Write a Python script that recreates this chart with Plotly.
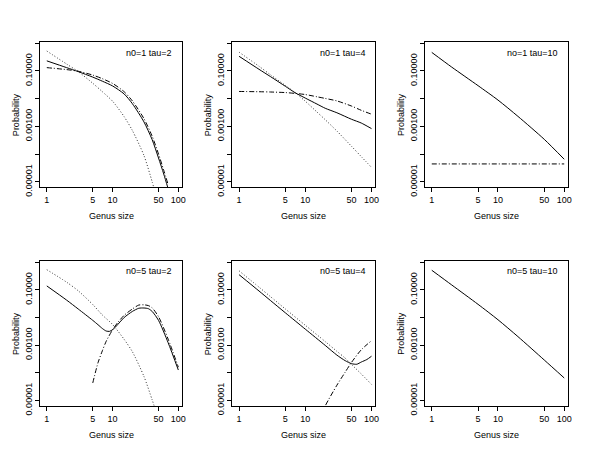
import plotly.graph_objects as go
from plotly.subplots import make_subplots

# ---------------- data ----------------
# Panel 1: n0=1 tau=2
p1_solid_x = [1, 2, 3, 5, 7, 10, 15, 20, 30, 40, 50, 60, 70]
p1_solid_y = [0.232, 0.132, 0.095, 0.060, 0.0427, 0.0288, 0.0148, 0.0066, 0.00145, 3.3e-4, 7.2e-5, 1.9e-5, 5.6e-6]
p1_dot_x = [1, 2, 3, 5, 7, 10, 15, 20, 30, 40, 45]
p1_dot_y = [0.525, 0.178, 0.095, 0.036, 0.0178, 0.0081, 0.00224, 7.1e-4, 8.9e-5, 1.0e-5, 3.8e-6]
p1_dd_x = [1, 2, 3, 5, 7, 10, 15, 20, 30, 40, 50, 60, 70]
p1_dd_y = [0.132, 0.112, 0.098, 0.071, 0.0525, 0.0355, 0.0178, 0.0083, 0.0019, 4.4e-4, 1.0e-4, 2.6e-5, 7.9e-6]

# Panel 2: n0=1 tau=4
p2_x = [1, 2, 3, 5, 7, 10, 15, 20, 30, 50, 70, 100]
p2_solid_y = [0.339, 0.115, 0.062, 0.028, 0.0165, 0.0105, 0.0064, 0.0045, 0.0031, 0.0018, 0.00132, 8.3e-4]
p2_dot_y = [0.479, 0.148, 0.072, 0.030, 0.0166, 0.0081, 0.0033, 0.00174, 6.8e-4, 1.9e-4, 8.1e-5, 3.3e-5]
p2_dd_y = [0.0182, 0.0178, 0.0174, 0.0166, 0.0155, 0.0141, 0.0117, 0.0102, 0.0083, 0.0054, 0.0038, 0.00275]

# Panel 3: no=1 tau=10
p3_solid_x = [1, 2, 5, 10, 20, 50, 100]
p3_solid_y = [0.468, 0.138, 0.0295, 0.0089, 0.0023, 3.4e-4, 6.5e-5]
p3_dd_x = [1, 10, 100]
p3_dd_y = [4.4e-5, 4.4e-5, 4.4e-5]

# Panel 4: n0=5 tau=2
p4_solid_x = [1, 2, 3, 5, 6, 7, 8, 9, 10, 11, 12, 15, 20, 25, 30, 35, 40, 50, 70, 100]
p4_solid_y = [0.139, 0.0427, 0.0204, 0.0079, 0.0055, 0.0040, 0.00324, 0.00316, 0.00363, 0.00447,
              0.0056, 0.010, 0.0166, 0.0216, 0.0221, 0.0209, 0.0166, 0.0079, 0.00123, 1.26e-4]
p4_dot_x = [1, 2, 3, 5, 7, 10, 15, 20, 30, 40, 45]
p4_dot_y = [0.537, 0.19, 0.093, 0.0295, 0.0123, 0.0056, 0.00162, 5.8e-4, 7.4e-5, 1.05e-5, 4.5e-6]
p4_dd_x = [5, 6, 7, 8, 10, 12, 15, 20, 25, 30, 35, 40, 50, 70, 100]
p4_dd_y = [4.3e-5, 2.3e-4, 6.3e-4, 0.00138, 0.0036, 0.0066, 0.012, 0.0204, 0.0282, 0.0288,
           0.0270, 0.0224, 0.0107, 0.00166, 1.6e-4]

# Panel 5: n0=5 tau=4
p5_solid_x = [1, 2, 3, 5, 10, 20, 30, 40, 50, 60, 70, 85, 100]
p5_solid_y = [0.355, 0.0912, 0.0407, 0.0148, 0.0038, 9.8e-4, 4.37e-4, 2.75e-4, 2.14e-4, 2.04e-4,
              2.45e-4, 3.02e-4, 3.98e-4]
p5_dot_x = [1, 2, 3, 5, 10, 20, 30, 40, 50, 70, 100]
p5_dot_y = [0.49, 0.126, 0.0562, 0.0204, 0.00525, 0.00135, 6.0e-4, 3.4e-4, 2.0e-4, 9.1e-5, 3.8e-5]
p5_dd_x = [18, 20, 30, 40, 50, 70, 100]
p5_dd_y = [3.2e-6, 6.3e-6, 3.55e-5, 1.05e-4, 2.4e-4, 6.8e-4, 1.45e-3]

# Panel 6: n0=5 tau=10
p6_solid_x = [1, 2, 5, 10, 20, 50, 100]
p6_solid_y = [0.513, 0.151, 0.030, 0.0083, 0.00204, 2.9e-4, 6.5e-5]

panel_titles = ["n0=1 tau=2", "n0=1 tau=4", "no=1 tau=10", "n0=5 tau=2", "n0=5 tau=4", "n0=5 tau=10"]
x_tickvals = [1, 5, 10, 50, 100]
x_ticktext = ["1", "5", "10", "50", "100"]
y_tickvals = [1, 0.1, 0.01, 0.001, 0.0001, 0.00001]
y_ticktext = ["", "0.10000", "", "0.00100", "", "0.00001"]

# ---------------- layout geometry (pixels) ----------------
W, H = 600, 464
col_px = [(40.5, 183.5), (234, 378), (428, 572)]
row_px = [(43, 191), (266.3, 414)]

FONT = "Liberation Sans, Arial, Helvetica, sans-serif"
FS = 9

fig = make_subplots(rows=2, cols=3)

SOLID = dict(color="black", width=1, dash="solid", shape="spline", smoothing=0.7)
DOT = dict(color="#333333", width=1, dash="1px,2px", shape="spline", smoothing=0.7)
DASHDOT = dict(color="black", width=1, dash="5px,2px,1px,2px", shape="spline", smoothing=0.7)

panels = [
    (1, 1, [(p1_solid_x, p1_solid_y, SOLID), (p1_dot_x, p1_dot_y, DOT), (p1_dd_x, p1_dd_y, DASHDOT)]),
    (1, 2, [(p2_x, p2_solid_y, SOLID), (p2_x, p2_dot_y, DOT), (p2_x, p2_dd_y, DASHDOT)]),
    (1, 3, [(p3_solid_x, p3_solid_y, SOLID), (p3_dd_x, p3_dd_y, dict(DASHDOT, shape="linear"))]),
    (2, 1, [(p4_solid_x, p4_solid_y, SOLID), (p4_dot_x, p4_dot_y, DOT), (p4_dd_x, p4_dd_y, DASHDOT)]),
    (2, 2, [(p5_solid_x, p5_solid_y, SOLID), (p5_dot_x, p5_dot_y, DOT), (p5_dd_x, p5_dd_y, DASHDOT)]),
    (2, 3, [(p6_solid_x, p6_solid_y, SOLID)]),
]

for r, c, traces in panels:
    for xs, ys, ln in traces:
        fig.add_trace(go.Scatter(x=xs, y=ys, mode="lines", line=ln, showlegend=False,
                                 hoverinfo="skip"), row=r, col=c)

annotations = []
for i, (r, c, _) in enumerate(panels):
    idx = i + 1
    xa = "xaxis" if idx == 1 else f"xaxis{idx}"
    ya = "yaxis" if idx == 1 else f"yaxis{idx}"
    x0, x1 = col_px[c - 1]
    y0, y1 = row_px[r - 1]
    fig.layout[xa].update(
        domain=[x0 / W, x1 / W], type="log", range=[-0.1, 2.06],
        tickvals=x_tickvals, ticktext=x_ticktext, ticks="outside", ticklen=4,
        tickcolor="black", tickwidth=1, showline=True, linecolor="black", linewidth=1,
        mirror=True, showgrid=False, zeroline=False,
        tickfont=dict(family=FONT, size=FS, color="black"))
    fig.layout[ya].update(
        domain=[1 - y1 / H, 1 - y0 / H], type="log", range=[-5.2, 0.04],
        tickvals=y_tickvals, ticktext=y_ticktext, ticks="outside", ticklen=4,
        tickcolor="black", tickwidth=1, showline=True, linecolor="black", linewidth=1,
        mirror=True, showgrid=False, zeroline=False, tickangle=-90,
        tickfont=dict(family=FONT, size=FS, color="black"))
    # panel label
    annotations.append(dict(text=panel_titles[i], xref="paper", yref="paper",
                            x=(x1 - 8) / W, y=1 - (y0 + (11.3 if r == 1 else 9.6)) / H,
                            xanchor="right", yanchor="middle", showarrow=False,
                            font=dict(family=FONT, size=FS, color="black")))
    # axis titles
    annotations.append(dict(text="Genus size", xref="paper", yref="paper",
                            x=(x0 + x1) / 2 / W, y=1 - (y1 + 29.5) / H,
                            xanchor="center", yanchor="middle", showarrow=False,
                            font=dict(family=FONT, size=FS, color="black")))
    annotations.append(dict(text="Probability", xref="paper", yref="paper",
                            x=(x0 - 25) / W, y=1 - (y0 + y1) / 2 / H, textangle=-90,
                            xanchor="center", yanchor="middle", showarrow=False,
                            font=dict(family=FONT, size=FS, color="black")))

fig.update_layout(width=W, height=H, margin=dict(l=0, r=0, t=0, b=0),
                  paper_bgcolor="white", plot_bgcolor="white",
                  annotations=annotations, showlegend=False,
                  font=dict(family=FONT, size=FS, color="black"))

fig.write_html("out.html", config={"displayModeBar": False},
               post_script="document.body.style.margin='0px';")
